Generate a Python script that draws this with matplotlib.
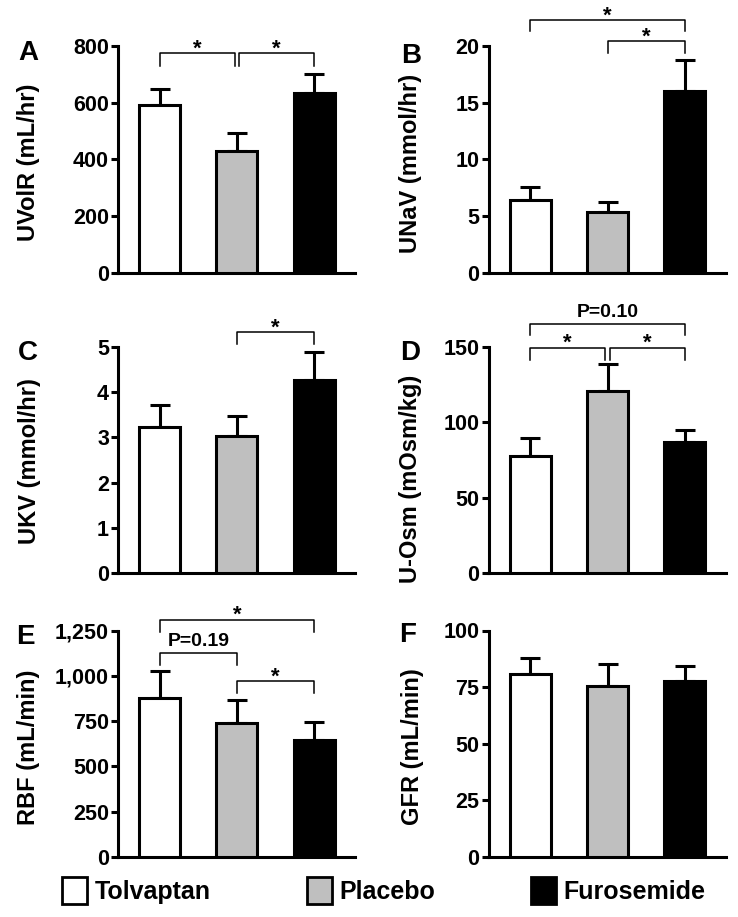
import matplotlib.pyplot as plt
from matplotlib.patches import Patch
from matplotlib.ticker import FuncFormatter, MultipleLocator

plt.rcParams['font.family'] = ['Liberation Sans', 'DejaVu Sans']
plt.rcParams['font.weight'] = 'bold'

# Datos (media y error superior)
groups = ['Tolvaptan', 'Placebo', 'Furosemide']
bar_colors = ['white', '#bfbfbf', 'black']

uvol = [592, 430, 636]
uvol_err = [58, 64, 67]
unav = [6.4, 5.37, 16.0]
unav_err = [1.15, 0.91, 2.76]
ukv = [3.22, 3.03, 4.26]
ukv_err = [0.50, 0.44, 0.62]
uosm = [77.5, 120.6, 86.8]
uosm_err = [12.4, 17.9, 8.2]
rbf = [875, 741, 645]
rbf_err = [153, 123, 98]
gfr = [81.0, 75.5, 77.9]
gfr_err = [6.9, 9.9, 6.3]

# Corchetes de significancia: (x1, x2, y_barra, y_extremo, texto)
br_a = [(0, 0.97, 774, 730, '*'), (1.03, 2, 774, 730, '*')]
br_b = [(0, 2, 22.3, 21.3, '*'), (1, 2, 20.4, 19.4, '*')]
br_c = [(1, 2, 5.33, 5.07, '*')]
br_d = [(0, 2, 165.4, 158, 'P=0.10'), (0, 0.97, 149.6, 141.7, '*'), (1.03, 2, 149.6, 141.7, '*')]
br_e = [(0, 2, 1309, 1243, '*'), (0, 1, 1125, 1061, 'P=0.19'), (1, 2, 969, 905, '*')]
br_f = []

W, H = 738, 917
fig = plt.figure(figsize=(7.38, 9.17), dpi=100)


def rect(l, r, t, b):
    return [l / W, 1 - b / H, (r - l) / W, (b - t) / H]


def fpos(x, y):
    return x / W, 1 - y / H


cols = [(118, 355), (488.5, 726)]
rows = [(46, 273), (347, 573), (630.5, 857)]

panels = [
    ('A', 'UVolR (mL/hr)', uvol, uvol_err, 800, 200, cols[0], rows[0], (28, 53), (29, 162), br_a),
    ('B', 'UNaV (mmol/hr)', unav, unav_err, 20, 5, cols[1], rows[0], (411, 56), (411, 163), br_b),
    ('C', 'UKV (mmol/hr)', ukv, ukv_err, 5, 1, cols[0], rows[1], (28, 353), (30, 461), br_c),
    ('D', 'U-Osm (mOsm/kg)', uosm, uosm_err, 150, 50, cols[1], rows[1], (410, 353), (411, 479), br_d),
    ('E', 'RBF (mL/min)', rbf, rbf_err, 1250, 250, cols[0], rows[2], (25, 637), (29, 747), br_e),
    ('F', 'GFR (mL/min)', gfr, gfr_err, 100, 25, cols[1], rows[2], (408, 635), (412, 747), br_f),
]

x = [0, 1, 2]
for letter, ylabel, vals, errs, ymax, step, (l, r), (t, b), lxy, yxy, brackets in panels:
    ax = fig.add_axes(rect(l, r, t, b))
    ax.bar(x, vals, width=0.53, color=bar_colors, edgecolor='black', linewidth=2.2, zorder=3)
    ax.errorbar(x, vals, yerr=[[0, 0, 0], errs], fmt='none', ecolor='black',
                elinewidth=2.2, capsize=7.5, capthick=2.2, zorder=2)
    ax.set_xlim(-0.54, 2.53)
    ax.set_ylim(0, ymax)
    ax.yaxis.set_major_locator(MultipleLocator(step))
    ax.yaxis.set_major_formatter(FuncFormatter(lambda v, p: f'{int(v):,}'))
    for s in ['top', 'right']:
        ax.spines[s].set_visible(False)
    for s in ['left', 'bottom']:
        ax.spines[s].set_linewidth(2.2)
    ax.tick_params(axis='y', direction='out', length=5, width=2.2, labelsize=15.5, pad=1.5)
    ax.tick_params(axis='x', bottom=False, labelbottom=False)

    for x1, x2, yt, yl, txt in brackets:
        ax.plot([x1, x1, x2, x2], [yl, yt, yt, yl], color='black', lw=1.1, clip_on=False)
        if txt == '*':
            ax.annotate(txt, xy=((x1 + x2) / 2, yt), xytext=(0, -1), textcoords='offset points',
                        ha='center', va='baseline', fontsize=16, annotation_clip=False)
        else:
            ax.annotate(txt, xy=((x1 + x2) / 2, yt), xytext=(0, 5), textcoords='offset points',
                        ha='center', va='baseline', fontsize=14, annotation_clip=False)

    fig.text(*fpos(*lxy), letter, ha='center', va='center', fontsize=20)
    fig.text(*fpos(*yxy), ylabel, ha='center', va='center', rotation=90, fontsize=17)

handles = [Patch(facecolor=c, edgecolor='black', linewidth=2) for c in bar_colors]
fig.legend(handles, groups, loc='center', bbox_to_anchor=(0.52, 0.029), ncol=3, frameon=False,
           prop={'weight': 'bold', 'size': 18}, handlelength=1.0, handleheight=1.28,
           handletextpad=0.3, columnspacing=3.85)

fig.savefig('out.png', dpi=100)
